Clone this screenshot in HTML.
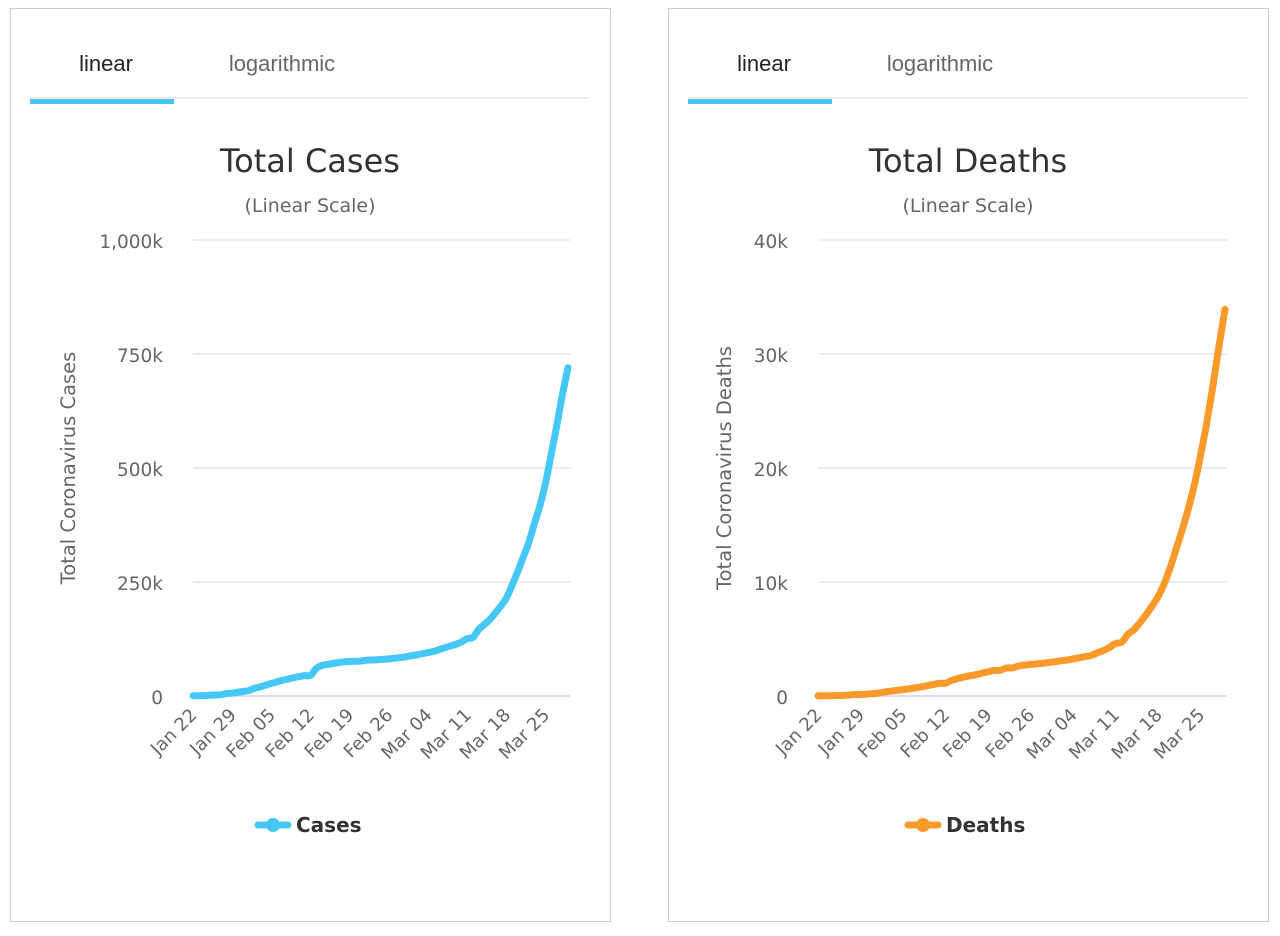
<!DOCTYPE html>
<html><head><meta charset="utf-8">
<style>
body{margin:0;background:#fff;width:1280px;height:936px;overflow:hidden;font-family:"Liberation Sans",sans-serif;}
svg{position:absolute;left:0;top:0}
</style></head>
<body>
<svg id="s" width="1280" height="936" xmlns="http://www.w3.org/2000/svg"></svg>
<script>
const dates = ["Jan 22","Jan 29","Feb 05","Feb 12","Feb 19","Feb 26","Mar 04","Mar 11","Mar 18","Mar 25"];
const casesValues = [555,654,941,1434,2118,2927,5578,6166,8234,9927,
12038,16787,19881,23892,27635,30794,34391,37120,40150,42762,
44802,45221,60368,66885,69030,71224,73258,75136,75639,76197,
76819,78572,78958,79561,80406,81388,82746,84112,86011,88369,
90306,92840,95120,97886,101801,105847,109821,113590,118620,125875,
128352,145205,156101,167454,181574,197102,214821,242570,272208,304507,
336953,378235,418045,467653,529591,593291,660706,720117];
const deathsValues = [17,18,26,42,56,82,131,133,171,213,
259,362,426,492,564,634,719,806,906,1013,
1113,1118,1371,1523,1666,1770,1868,2007,2122,2247,
2251,2458,2469,2629,2708,2770,2814,2872,2941,2996,
3085,3160,3254,3348,3460,3558,3802,3988,4262,4615,
4720,5404,5819,6440,7126,7905,8733,9867,11299,12973,
14651,16505,18625,21181,23970,27198,30652,33925];
const casesTicks = [0,250000,500000,750000,1000000];
const casesTickLabels = ["0","250k","500k","750k","1,000k"];
const deathsTicks = [0,10000,20000,30000,40000];
const deathsTickLabels = ["0","10k","20k","30k","40k"];

const NS="http://www.w3.org/2000/svg";
const svg=document.getElementById('s');
function mk(tag,attrs,parent,text){const e=document.createElementNS(NS,tag);for(const k in attrs)e.setAttribute(k,attrs[k]);if(text!==undefined)e.textContent=text;(parent||svg).appendChild(e);return e;}

function smoothPath(p){
  let d='M'+p[0][0].toFixed(1)+','+p[0][1].toFixed(1);
  for(let i=0;i<p.length-1;i++){
    const p0=p[Math.max(i-1,0)],p1=p[i],p2=p[i+1],p3=p[Math.min(i+2,p.length-1)];
    const c1x=p1[0]+(p2[0]-p0[0])/6,c1y=p1[1]+(p2[1]-p0[1])/6;
    const c2x=p2[0]-(p3[0]-p1[0])/6,c2y=p2[1]-(p3[1]-p1[1])/6;
    d+=` C${c1x.toFixed(1)},${c1y.toFixed(1)} ${c2x.toFixed(1)},${c2y.toFixed(1)} ${p2[0].toFixed(1)},${p2[1].toFixed(1)}`;
  }
  return d;
}

function panel(o){
  const g=mk('g',{});
  
  
  const fr=mk('rect',{x:o.px+0.5,y:8.5,width:600,height:913,fill:'#fff',stroke:'#ccc','stroke-width':1},g);
  
  
  const ln=mk('line',{x1:o.px+20,x2:o.px+580,y1:98,y2:98,stroke:'#e6e6e6','stroke-width':1.5},g);
  
  
  const ul=mk('rect',{x:o.px+20,y:99,width:144,height:5,fill:'#45c8f8'},g);
  
  
  const t1=mk('text',{x:o.px+96,y:71,'font-size':22,fill:'#222','text-anchor':'middle'},g,'linear');
  
  
  const t2=mk('text',{x:o.px+272,y:71,'font-size':22,fill:'#666','text-anchor':'middle'},g,'logarithmic');
  
  
  const ti=mk('text',{x:o.tc,y:172,'font-size':32,fill:'#333','text-anchor':'middle','font-family':'DejaVu Sans, sans-serif'},g,o.title);
  
  
  const st=mk('text',{x:o.tc,y:212,'font-size':19,fill:'#666','text-anchor':'middle','font-family':'DejaVu Sans, sans-serif'},g,'(Linear Scale)');
  
  
  const x0=o.x0,x1=o.x1,y0=696,y1=240;
  const n=o.values.length;
  const xs=i=>x0+(x1-x0)*i/(n-1);
  const ys=v=>y0-(y0-y1)*v/o.max;
  o.ticks.forEach((t,i)=>{
    const gl=mk('line',{x1:x0,x2:o.gx,y1:ys(t),y2:ys(t),stroke:i===0?'#ccd6eb':'#e6e6e6','stroke-width':1.5},g);
    
    
    const tl=mk('text',{x:o.lx,y:ys(t)+8,'font-size':18.5,fill:'#666','text-anchor':'end','font-family':'DejaVu Sans, sans-serif'},g,o.tickLabels[i]);
    
    
  });
  dates.forEach((d,i)=>{
    const x=xs(i*7)+5, y=716;
    const tl=mk('text',{x:x,y:y,'font-size':18,fill:'#666','text-anchor':'end',transform:`rotate(-45 ${x} ${y})`,'font-family':'DejaVu Sans, sans-serif'},g,d);
    
    
  });
  const yt=mk('text',{x:o.ytx,y:468,'font-size':19.5,fill:'#666','text-anchor':'middle',transform:`rotate(-90 ${o.ytx} 468)`,'font-family':'DejaVu Sans, sans-serif'},g,o.ytitle);
  
  
  const pts=o.values.map((v,i)=>[xs(i),ys(v)]);
  const pl=mk('path',{d:smoothPath(pts),fill:'none',stroke:o.color,'stroke-width':7,'stroke-linejoin':'round','stroke-linecap':'round'},g);
  
  
  const lg=mk('g',{},g);
  
  
  mk('line',{x1:o.lgx,x2:o.lgx+30,y1:825,y2:825,stroke:o.color,'stroke-width':7,'stroke-linecap':'round'},lg);
  mk('circle',{cx:o.lgx+15,cy:825,r:7,fill:o.color},lg);
  mk('text',{x:o.lgx+38,y:832,'font-size':20,'font-weight':'bold',fill:'#333','font-family':'DejaVu Sans, sans-serif'},lg,o.legend);
}
panel({key:'cases',px:10,tc:310,title:'Total Cases',x0:193,x1:568,gx:570,lx:163,ytx:75,ytitle:'Total Coronavirus Cases',values:casesValues,max:1000000,ticks:casesTicks,tickLabels:casesTickLabels,color:'#45c8f8',lgx:258,legend:'Cases'});
panel({key:'deaths',px:668,tc:968,title:'Total Deaths',x0:818,x1:1225,gx:1227,lx:788,ytx:731,ytitle:'Total Coronavirus Deaths',values:deathsValues,max:40000,ticks:deathsTicks,tickLabels:deathsTickLabels,color:'#fa9a2a',lgx:908,legend:'Deaths'});
</script>
</body></html>
